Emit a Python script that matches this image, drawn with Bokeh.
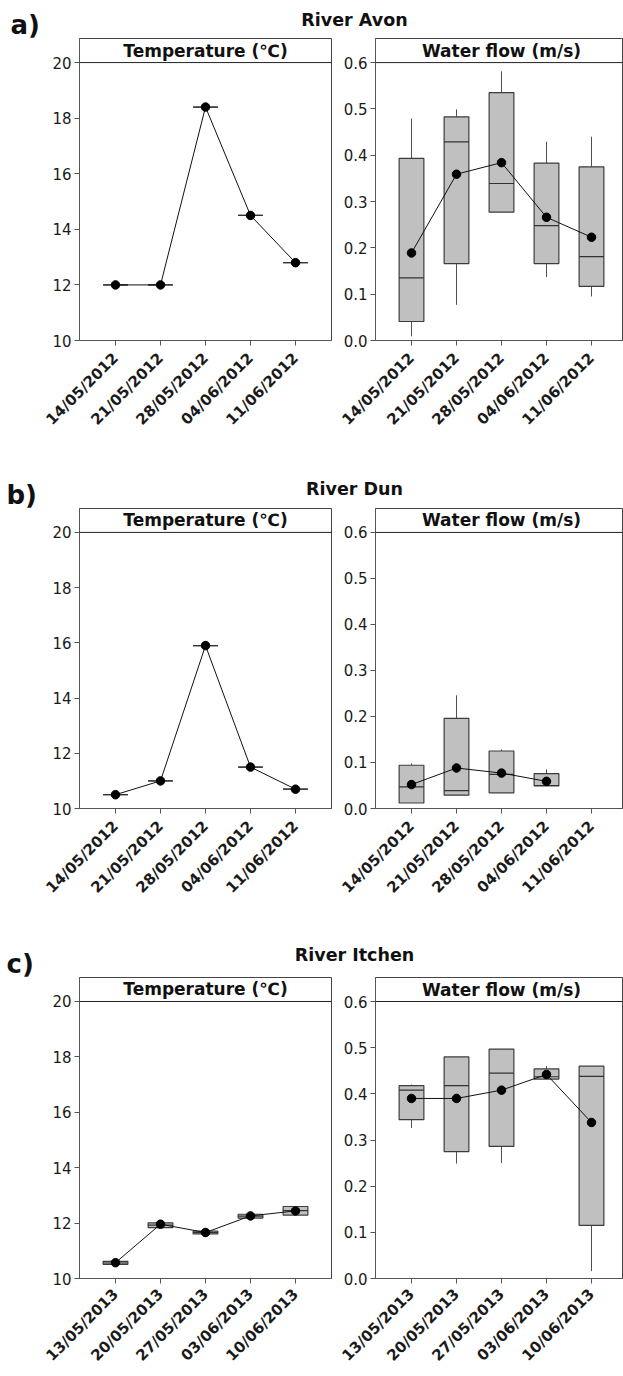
import math
from bokeh.plotting import figure
from bokeh.models import Range1d, FixedTicker, NumeralTickFormatter, Span, Label
from bokeh.layouts import column, row
from bokeh.embed import file_html
from bokeh.resources import INLINE

# ---------------- data ----------------
dates_2012 = ["14/05/2012", "21/05/2012", "28/05/2012", "04/06/2012", "11/06/2012"]
dates_2013 = ["13/05/2013", "20/05/2013", "27/05/2013", "03/06/2013", "10/06/2013"]

temp_ticks = [10, 12, 14, 16, 18, 20]
flow_ticks = [0.0, 0.1, 0.2, 0.3, 0.4, 0.5, 0.6]

# River Avon
avon_temp_mean = [12.0, 12.0, 18.4, 14.5, 12.8]
avon_temp_q1 = [12.0, 12.0, 18.4, 14.5, 12.8]
avon_temp_q3 = [12.0, 12.0, 18.4, 14.5, 12.8]
avon_temp_med = [12.0, 12.0, 18.4, 14.5, 12.8]

avon_flow_q1 = [0.041, 0.166, 0.277, 0.166, 0.117]
avon_flow_q3 = [0.393, 0.483, 0.535, 0.383, 0.375]
avon_flow_med = [0.135, 0.429, 0.339, 0.248, 0.181]
avon_flow_lo = [0.009, 0.077, 0.277, 0.137, 0.095]
avon_flow_hi = [0.479, 0.499, 0.581, 0.429, 0.440]
avon_flow_mean = [0.189, 0.359, 0.384, 0.266, 0.223]

# River Dun
dun_temp_mean = [10.5, 11.0, 15.9, 11.5, 10.7]
dun_temp_q1 = [10.5, 11.0, 15.9, 11.5, 10.7]
dun_temp_q3 = [10.5, 11.0, 15.9, 11.5, 10.7]
dun_temp_med = [10.5, 11.0, 15.9, 11.5, 10.7]

dun_flow_q1 = [0.012, 0.029, 0.034, 0.049, None]
dun_flow_q3 = [0.094, 0.196, 0.125, 0.076, None]
dun_flow_med = [0.047, 0.039, 0.074, 0.050, None]
dun_flow_lo = [0.012, 0.029, 0.034, 0.049, None]
dun_flow_hi = [0.098, 0.246, 0.128, 0.085, None]
dun_flow_mean = [0.052, 0.088, 0.077, 0.059, None]

# River Itchen
itchen_temp_q1 = [10.51, 11.84, 11.61, 12.18, 12.29]
itchen_temp_q3 = [10.62, 12.01, 11.71, 12.32, 12.60]
itchen_temp_med = [10.56, 11.93, 11.66, 12.25, 12.45]
itchen_temp_mean = [10.57, 11.96, 11.66, 12.26, 12.44]

itchen_flow_q1 = [0.344, 0.275, 0.286, 0.432, 0.115]
itchen_flow_q3 = [0.418, 0.480, 0.497, 0.454, 0.460]
itchen_flow_med = [0.408, 0.418, 0.445, 0.437, 0.438]
itchen_flow_lo = [0.326, 0.249, 0.250, 0.432, 0.016]
itchen_flow_hi = [0.420, 0.480, 0.497, 0.460, 0.460]
itchen_flow_mean = [0.390, 0.390, 0.408, 0.442, 0.338]

rivers = ["River Avon", "River Dun", "River Itchen"]
panel_letters = ["a)", "b)", "c)"]
strip_temp = "Temperature (\u2103)"
strip_flow = "Water flow (m/s)"

# ---------------- style ----------------
FONT = "DejaVu Sans"
BOX_FILL = "#c0c0c0"
BOX_LINE = "#3c3c3c"
AXIS_COL = "#555555"
BOX_W = 0.55


def style_axes(p, dates, yticks, flow, standoff):
    p.xgrid.visible = False
    p.ygrid.visible = False
    p.outline_line_color = "#444444"
    p.outline_line_width = 1
    for ax in (p.xaxis[0], p.yaxis[0]):
        ax.axis_line_color = AXIS_COL
        ax.major_tick_line_color = AXIS_COL
        ax.minor_tick_line_color = None
        ax.major_tick_in = 0
        ax.major_tick_out = 5
        ax.major_label_text_font = FONT
        ax.major_label_text_color = "#1a1a1a"
    p.yaxis.ticker = FixedTicker(ticks=yticks)
    p.yaxis.major_label_text_font_size = "15px"
    p.yaxis.major_label_standoff = 3
    if flow:
        p.yaxis.formatter = NumeralTickFormatter(format="0.0")
    p.xaxis.ticker = FixedTicker(ticks=list(range(1, len(dates) + 1)))
    p.xaxis.major_label_overrides = {i + 1: d for i, d in enumerate(dates)}
    p.xaxis.major_label_orientation = math.pi / 4
    p.xaxis.major_label_text_font_size = "15px"
    p.xaxis.major_label_text_font_style = "bold"
    p.xaxis.major_label_standoff = standoff


def add_strip(p, ytop, text, xc):
    p.add_layout(Span(location=ytop, dimension="width", line_color="#222222", line_width=1))
    p.add_layout(Label(x=xc, y=ytop, y_offset=12, text=text, text_font=FONT,
                       text_font_size="17px", text_font_style="bold",
                       text_align="center", text_baseline="middle", text_color="#111111"))


def draw_boxes(p, q1, q3, med, mean, lo=None, hi=None):
    idx = [i for i in range(len(q1)) if q1[i] is not None]
    xs = [i + 1 for i in idx]
    if lo is not None:
        p.segment(x0=xs, x1=xs, y0=[q3[i] for i in idx], y1=[hi[i] for i in idx],
                  line_color="#505050", line_width=1)
        p.segment(x0=xs, x1=xs, y0=[q1[i] for i in idx], y1=[lo[i] for i in idx],
                  line_color="#505050", line_width=1)
    p.vbar(x=xs, width=BOX_W, bottom=[q1[i] for i in idx], top=[q3[i] for i in idx],
           fill_color=BOX_FILL, line_color=BOX_LINE, line_width=1.2)
    p.segment(x0=[x - BOX_W / 2 for x in xs], x1=[x + BOX_W / 2 for x in xs],
              y0=[med[i] for i in idx], y1=[med[i] for i in idx],
              line_color="#333333", line_width=1.2)
    p.line(x=xs, y=[mean[i] for i in idx], line_color="#111111", line_width=1)
    p.scatter(x=xs, y=[mean[i] for i in idx], size=8.5, marker="circle",
              fill_color="black", line_color="black")


def make_header(letter, title, title_mid, letter_x, letter_mid):
    h = figure(width=623, height=38, x_range=Range1d(0, 623), y_range=Range1d(0, 38),
               toolbar_location=None, output_backend="svg", min_border=0, title=None,
               x_axis_type=None, y_axis_type=None)
    h.outline_line_color = None
    h.xgrid.visible = False
    h.ygrid.visible = False
    h.add_layout(Label(x=letter_x, y=38 - letter_mid, text=letter, text_font=FONT,
                       text_font_size="26px", text_font_style="bold",
                       text_baseline="middle", text_align="left", text_color="#111111"))
    h.add_layout(Label(x=354, y=38 - title_mid, text=title, text_font=FONT,
                       text_font_size="17.5px", text_font_style="bold",
                       text_baseline="middle", text_align="center", text_color="#111111"))
    return h


def make_row(dates, frame_h, bottom, standoff, t, f):
    tp = figure(width=333, height=frame_h + bottom, x_range=Range1d(0.2, 5.8),
                y_range=Range1d(10, 20.866), min_border_left=79, min_border_right=2,
                min_border_top=0, min_border_bottom=bottom, title=None,
                toolbar_location=None, output_backend="svg")
    style_axes(tp, dates, temp_ticks, False, standoff)
    add_strip(tp, 20, strip_temp, 3)
    draw_boxes(tp, *t)

    fp = figure(width=290, height=frame_h + bottom, x_range=Range1d(0.2, 0.2 + 247 / 45),
                y_range=Range1d(0, 0.652), min_border_left=42, min_border_right=1,
                min_border_top=0, min_border_bottom=bottom, title=None,
                toolbar_location=None, output_backend="svg")
    style_axes(fp, dates, flow_ticks, True, standoff)
    add_strip(fp, 0.6, strip_flow, 3)
    draw_boxes(fp, *f)
    return row(tp, fp, spacing=0)


ha = make_header(panel_letters[0], rivers[0], 19, 10, 24)
ra = make_row(dates_2012, 302, 130, 10,
              (avon_temp_q1, avon_temp_q3, avon_temp_med, avon_temp_mean),
              (avon_flow_q1, avon_flow_q3, avon_flow_med, avon_flow_mean, avon_flow_lo, avon_flow_hi))
hb = make_header(panel_letters[1], rivers[1], 18, 6, 24)
rb = make_row(dates_2012, 300, 131, 10,
              (dun_temp_q1, dun_temp_q3, dun_temp_med, dun_temp_mean),
              (dun_flow_q1, dun_flow_q3, dun_flow_med, dun_flow_mean, dun_flow_lo, dun_flow_hi))
hc = make_header(panel_letters[2], rivers[2], 15, 6, 24)
rc = make_row(dates_2013, 301, 98, 8,
              (itchen_temp_q1, itchen_temp_q3, itchen_temp_med, itchen_temp_mean),
              (itchen_flow_q1, itchen_flow_q3, itchen_flow_med, itchen_flow_mean, itchen_flow_lo, itchen_flow_hi))

layout = column(ha, ra, hb, rb, hc, rc, spacing=0)
open("out.html", "w").write(file_html(layout, INLINE))
